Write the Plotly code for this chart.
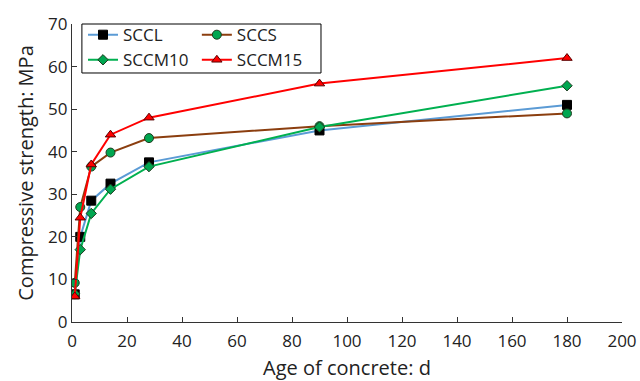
import plotly.graph_objects as go

# Curing ages (days)
age = [1, 3, 7, 14, 28, 90, 180]

# Compressive strength (MPa) per mix
sccl = [6.5, 20.0, 28.5, 32.5, 37.5, 45.0, 51.0]
sccs = [9.2, 27.0, 36.5, 39.8, 43.2, 46.0, 49.0]
sccm10 = [6.6, 17.0, 25.5, 31.2, 36.5, 45.8, 55.5]
sccm15 = [6.0, 24.5, 37.0, 44.0, 48.0, 56.0, 62.0]

FONT = "Open Sans"

# name, values, line colour, marker style, legend column
series = [
    ("SCCL", sccl, "#5b9bd5", dict(symbol="square", color="black", size=9,
                                   line=dict(color="black", width=1)), "legend"),
    ("SCCS", sccs, "#8b3e0f", dict(symbol="circle", color="#00a650", size=9,
                                   line=dict(color="#1f3a1f", width=1)), "legend2"),
    ("SCCM10", sccm10, "#00b050", dict(symbol="diamond", color="#00a650", size=8,
                                       line=dict(color="#1f3a1f", width=1)), "legend"),
    ("SCCM15", sccm15, "#ff0000", dict(symbol="triangle-up", color="#ff0000", size=9,
                                       line=dict(color="#5a0000", width=1)), "legend2"),
]

fig = go.Figure()
for name, vals, lc, mk, lg in series:
    fig.add_trace(go.Scatter(
        x=age, y=vals, name=name, mode="lines+markers",
        line=dict(color=lc, width=2), marker=mk, legend=lg,
    ))

legend_style = dict(
    orientation="v", yanchor="top", xanchor="left",
    bgcolor="rgba(0,0,0,0)", borderwidth=0,
    font=dict(family=FONT, size=17, color="#222"),
    itemwidth=30, tracegroupgap=0,
)

fig.update_layout(
    width=640, height=381,
    margin=dict(l=72, r=18, t=24, b=59, autoexpand=False),
    paper_bgcolor="white", plot_bgcolor="white",
    font=dict(family=FONT, size=17, color="#222"),
    showlegend=True,
    legend=dict(x=0.02, y=1.023, **legend_style),
    legend2=dict(x=0.227, y=1.023, **legend_style),
    # frame around both legend columns
    shapes=[dict(type="rect", xref="paper", yref="paper",
                 x0=0.018, x1=0.4527, y0=0.8356, y1=1.0,
                 line=dict(color="black", width=1), fillcolor="white",
                 layer="below")],
    xaxis=dict(
        range=[0, 200], dtick=20, tick0=0,
        showline=True, linecolor="#333", linewidth=1.2,
        ticks="inside", ticklen=5, tickcolor="#333",
        ticklabelstandoff=3, automargin=False,
        showgrid=False, zeroline=False,
        title=dict(text="Age of concrete: d", standoff=17),
    ),
    yaxis=dict(
        range=[0, 70], dtick=10, tick0=0,
        showline=True, linecolor="#333", linewidth=1.2,
        ticks="inside", ticklen=5, tickcolor="#333",
        automargin=False,
        showgrid=False, zeroline=False,
        title=dict(text="Compressive strength: MPa", standoff=9),
    ),
)

fig.write_html("out.html")
